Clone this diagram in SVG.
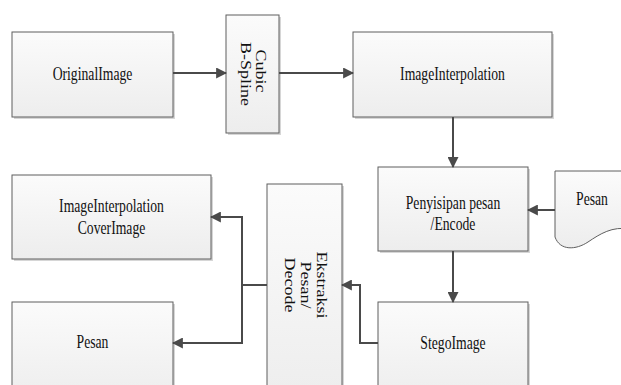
<svg xmlns="http://www.w3.org/2000/svg" width="621" height="385" viewBox="0 0 621 385">
<style>
.box{fill:url(#g);stroke:#5f5f5f;stroke-width:1}
.sh{fill:#d6d6d6}
.t{font-family:"Liberation Serif","Times New Roman",serif;font-size:19px;fill:#111111;text-anchor:middle}
.r{font-size:18px}
.c{fill:none;stroke:#4a4a4a;stroke-width:2;marker-end:url(#a)}
</style>
<defs>
<linearGradient id="g" x1="0" y1="0" x2="0" y2="1">
<stop offset="0" stop-color="#fbfbfb"/>
<stop offset="1" stop-color="#ededed"/>
</linearGradient>
<marker id="a" viewBox="0 0 10 10" refX="9" refY="5" markerWidth="5.5" markerHeight="5.5" orient="auto" markerUnits="strokeWidth">
<path d="M0,0 L10,5 L0,10 Z" fill="#4a4a4a"/>
</marker>
</defs>
<rect width="621" height="385" fill="#ffffff"/>
<g id="originalImage">
<rect class="sh" x="14" y="34" width="161" height="85"/>
<rect class="box" x="12" y="32" width="161" height="85"/>
<text class="t" transform="translate(92.5,80) scale(0.72,1)">OriginalImage</text>
</g>
<g id="cubic">
<rect class="sh" x="228" y="17" width="53" height="118"/>
<rect class="box" x="226" y="15" width="53" height="118"/>
<text class="t r" transform="translate(248.5,74) scale(0.8,1) rotate(90)"><tspan x="-3" y="-9.4">Cubic</tspan><tspan x="0" y="9.4">B-Spline</tspan></text>
</g>
<g id="imageInterpolation">
<rect class="sh" x="355" y="34" width="199" height="85"/>
<rect class="box" x="353" y="32" width="199" height="85"/>
<text class="t" transform="translate(452.5,80) scale(0.72,1)">ImageInterpolation</text>
</g>
<g id="penyisipan">
<rect class="sh" x="380" y="169" width="150" height="84"/>
<rect class="box" x="378" y="167" width="150" height="84"/>
<text class="t" transform="translate(453,0) scale(0.72,1)"><tspan x="0" y="209">Penyisipan pesan</tspan><tspan x="0" y="230">/Encode</tspan></text>
</g>
<g id="pesanDoc">
<path class="box" d="M555,171 H630 V229 C612,226 600,234 588,242 C576,250 560,251 555,237 Z"/>
<text class="t" transform="translate(592,205) scale(0.72,1)">Pesan</text>
</g>
<g id="stegoImage">
<rect class="sh" x="380" y="304" width="150" height="100"/>
<rect class="box" x="378" y="302" width="150" height="100"/>
<text class="t" transform="translate(453,349) scale(0.72,1)">StegoImage</text>
</g>
<g id="ekstraksi">
<rect class="sh" x="269" y="186" width="75" height="220"/>
<rect class="box" x="267" y="184" width="75" height="220"/>
<text class="t r" transform="translate(301,285) scale(0.8,1) rotate(90)"><tspan x="0" y="-20">Ekstraksi</tspan><tspan x="0" y="0">Pesan/</tspan><tspan x="0" y="20">Decode</tspan></text>
</g>
<g id="coverImage">
<rect class="sh" x="14" y="177" width="199" height="84"/>
<rect class="box" x="12" y="175" width="199" height="84"/>
<text class="t" transform="translate(111.5,0) scale(0.72,1)"><tspan x="0" y="212">ImageInterpolation</tspan><tspan x="0" y="234">CoverImage</tspan></text>
</g>
<g id="pesanOut">
<rect class="sh" x="14" y="304" width="161" height="100"/>
<rect class="box" x="12" y="302" width="161" height="100"/>
<text class="t" transform="translate(92.5,348) scale(0.72,1)">Pesan</text>
</g>
<g id="connectors">
<path class="c" d="M173,73 H226"/>
<path class="c" d="M279,73 H353"/>
<path class="c" d="M453,117 V167"/>
<path class="c" d="M555,210 H528"/>
<path class="c" d="M453,251 V302"/>
<path class="c" d="M378,343 H360 V285 H342"/>
<path class="c" d="M267,285 H242 V217 H211"/>
<path class="c" d="M242,285 V343 H173"/>
</g>
</svg>
